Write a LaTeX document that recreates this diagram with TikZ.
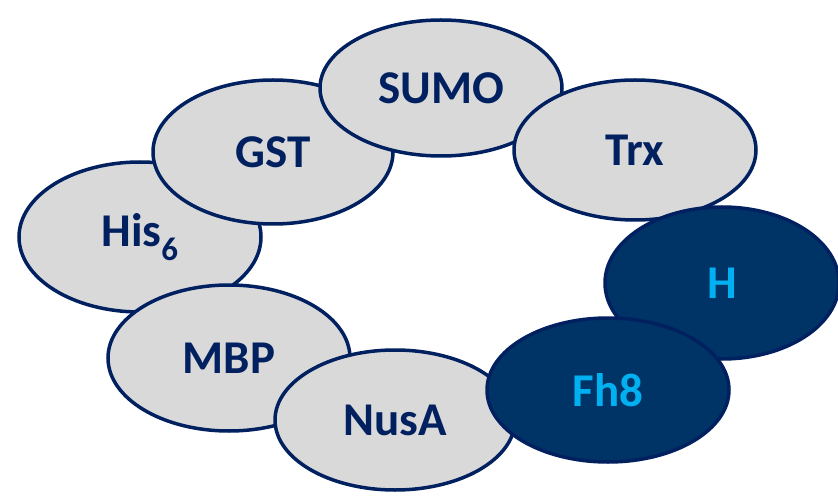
\documentclass[tikz,border=0pt]{standalone}
\usepackage{fontspec}
\setmainfont{Carlito}
\usetikzlibrary{shapes.geometric}
\definecolor{navy}{HTML}{002060}
\definecolor{lgrey}{HTML}{D9D9D9}
\definecolor{dfill}{HTML}{003366}
\definecolor{lblue}{HTML}{00B0F0}
\tikzset{
  tag/.style={ellipse, draw=navy, line width=3.5pt, fill=lgrey, inner sep=0pt,
    font=\fontsize{47}{50}\selectfont\bfseries, text=navy},
  dtag/.style={tag, fill=dfill, text=lblue}
}
\begin{document}
\begin{tikzpicture}[x=1pt,y=1pt]
\useasboundingbox (0,0) rectangle (838,496);
\node[tag, minimum width=242, minimum height=150] (his) at (140,259) {His$_{\mathbf 6}$};
\node[tag, minimum width=240, minimum height=144] (gst) at (273,344) {GST};
\node[tag, minimum width=242, minimum height=136] (sumo) at (441,408) {SUMO};
\node[tag, minimum width=242, minimum height=140] (trx) at (635,346) {Trx};
\node[dtag, minimum width=234, minimum height=152] (h) at (722,213) {H};
\node[tag, minimum width=242, minimum height=146] (mbp) at (229,138) {MBP};
\node[tag, minimum width=240, minimum height=140] (nusa) at (395,76) {NusA};
\node[dtag, minimum width=242, minimum height=144] (fh8) at (608,106) {Fh8};
\end{tikzpicture}
\end{document}
